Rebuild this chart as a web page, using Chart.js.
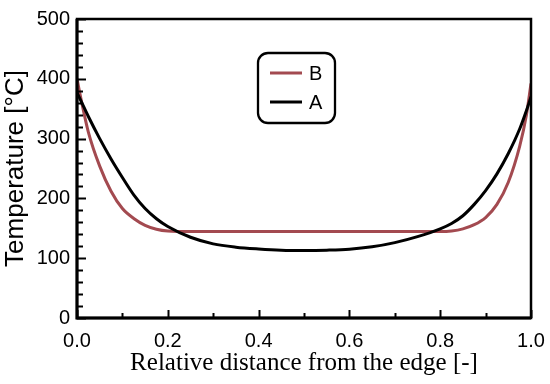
<!DOCTYPE html>
<html>
<head>
<meta charset="utf-8">
<script src="https://cdn.jsdelivr.net/npm/chart.js@4/dist/chart.umd.min.js"></script>
<style>
  body { margin: 0; background: #fff; }
  #wrap { width: 550px; height: 384px; }
</style>
</head>
<body>
<div id="wrap"><canvas id="tempChart"></canvas></div>
<script>
// values
const distance = [0, 0.01, 0.025, 0.05, 0.075, 0.1, 0.125, 0.15, 0.175, 0.2, 0.25, 0.3, 0.35, 0.4, 0.45, 0.5,
                  0.55, 0.6, 0.65, 0.7, 0.75, 0.8, 0.825, 0.85, 0.875, 0.9, 0.925, 0.95, 0.975, 0.99, 1.0];
const tempA = [377, 361, 337, 300, 266, 235, 206, 183, 166, 153, 135, 124, 118.5, 115.5, 113.5, 113,
               113.5, 115, 119, 126, 136, 149, 158, 171, 190, 213, 241, 275, 316, 347, 370];
const tempB = [400, 362, 311, 254, 212, 183, 166.5, 155, 148.5, 145.5, 144.5, 144.5, 144.5, 144.5, 144.5, 144.5,
               144.5, 144.5, 144.5, 144.5, 144.5, 144.5, 145.5, 149, 156, 168, 190, 227, 287, 340, 392];
const seriesNames = ['B', 'A'];
const xTicks = [0, 0.2, 0.4, 0.6, 0.8, 1.0];
const yTicks = [0, 100, 200, 300, 400, 500];

const SANS = "'Liberation Sans', Arial, sans-serif";
const SERIF = "'Liberation Serif', 'Times New Roman', serif";

const toPoints = vals => vals.map((v, i) => ({ x: distance[i], y: v }));

// frame, inward ticks and the boxed legend
const framePlugin = {
    id: 'frame',
    afterDatasetsDraw(chart) {
        const { ctx, chartArea: a, scales } = chart;
        const xs = scales.x, ys = scales.y;
        ctx.save();
        ctx.strokeStyle = '#000';
        ctx.lineWidth = 2;
        // y ticks, every 20, major every 100
        for (let v = 0; v <= 500; v += 20) {
            const py = Math.round(ys.getPixelForValue(v)) + 0.5;
            const len = v % 100 === 0 ? 9 : 6;
            ctx.beginPath();
            ctx.moveTo(a.left, py);
            ctx.lineTo(a.left + len, py);
            ctx.stroke();
        }
        // x ticks, every 0.1, major every 0.2
        for (let i = 0; i <= 10; i++) {
            const px = Math.round(xs.getPixelForValue(i / 10)) + 0.5;
            const len = i % 2 === 0 ? 8 : 5;
            ctx.beginPath();
            ctx.moveTo(px, a.bottom);
            ctx.lineTo(px, a.bottom - len);
            ctx.stroke();
        }
        // box
        ctx.lineWidth = 2.5;
        ctx.strokeRect(a.left, a.top, a.right - a.left, a.bottom - a.top);
        ctx.lineWidth = 3;
        ctx.beginPath();
        ctx.moveTo(a.left, a.top);
        ctx.lineTo(a.left, a.bottom);
        ctx.lineTo(a.right, a.bottom);
        ctx.stroke();

        // legend
        ctx.lineWidth = 2.3;
        ctx.beginPath();
        ctx.roundRect(258, 53, 77, 70, 10);
        ctx.stroke();
        const rows = [73, 102];
        chart.data.datasets.forEach((ds, i) => {
            ctx.strokeStyle = ds.borderColor;
            ctx.lineWidth = 3;
            ctx.beginPath();
            ctx.moveTo(270, rows[i]);
            ctx.lineTo(302, rows[i]);
            ctx.stroke();
            ctx.fillStyle = '#000';
            ctx.font = '20px ' + SANS;
            ctx.textBaseline = 'middle';
            ctx.textAlign = 'left';
            ctx.fillText(ds.label, 309, rows[i] + 1);
        });
        ctx.restore();
    }
};

const ctx = document.getElementById('tempChart');

new Chart(ctx, {
    type: 'line',
    data: {
        datasets: [
            {
                label: seriesNames[0],
                data: toPoints(tempB),
                borderColor: '#a34a50',
                borderWidth: 3,
                pointRadius: 0,
                cubicInterpolationMode: 'monotone',
                order: 1,
            },
            {
                label: seriesNames[1],
                data: toPoints(tempA),
                borderColor: '#000000',
                borderWidth: 3,
                pointRadius: 0,
                cubicInterpolationMode: 'monotone',
                order: 0,
            },
        ]
    },
    options: {
        responsive: true,
        maintainAspectRatio: false,
        animation: false,
        layout: { padding: { top: 16, right: 19, left: 0, bottom: 0 } },
        plugins: {
            legend: { display: false },
            tooltip: { enabled: false },
        },
        scales: {
            x: {
                type: 'linear',
                min: 0,
                max: 1,
                afterFit: s => { s.height = 66; s.paddingLeft = 0; s.paddingRight = 0; },
                afterBuildTicks: s => { s.ticks = xTicks.map(v => ({ value: v })); },
                grid: { display: false, drawTicks: false },
                border: { display: false },
                ticks: {
                    padding: 11,
                    color: '#000',
                    font: { family: SANS, size: 20 },
                    callback: v => v.toFixed(1),
                },
                title: {
                    display: true,
                    text: 'Relative distance from the edge [-]',
                    color: '#000',
                    font: { family: SERIF, size: 25 },
                    padding: { top: 0, bottom: 6 },
                },
            },
            y: {
                min: 0,
                max: 500,
                afterFit: s => { s.width = 77; },
                afterBuildTicks: s => { s.ticks = yTicks.map(v => ({ value: v })); },
                grid: { display: false, drawTicks: false },
                border: { display: false },
                ticks: {
                    padding: 7,
                    color: '#000',
                    font: { family: SANS, size: 20 },
                },
                title: {
                    display: true,
                    text: 'Temperature [°C]',
                    color: '#000',
                    font: { family: SANS, size: 26 },
                    padding: { top: 0, bottom: 0 },
                },
            },
        },
    },
    plugins: [framePlugin],
});
</script>
</body>
</html>
